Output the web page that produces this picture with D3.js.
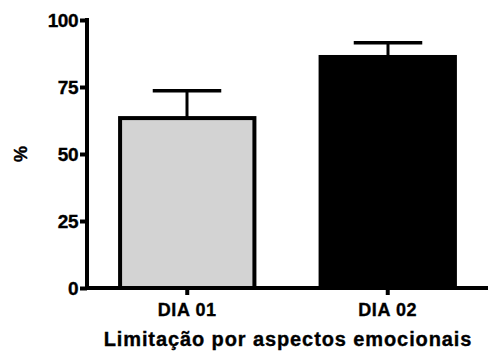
<!DOCTYPE html>
<html>
<head>
<meta charset="utf-8">
<script src="https://cdn.jsdelivr.net/npm/d3@7"></script>
<style>
  body { margin: 0; background: #fff; }
  svg { display: block; }
  svg text { font-family: "Liberation Sans", Arial, sans-serif; font-weight: bold; fill: #000; stroke: #000; stroke-width: 0.35px; }
  .axis path, .axis line { stroke: #000; stroke-width: 4px; }
</style>
</head>
<body>
<svg id="chart" width="488" height="351"></svg>
<script>
// data
const categories = ['DIA 01', 'DIA 02'];
const means = [63.4, 86.2];
const errors = [10.2, 5.3];
const fills = ['#d3d3d3', '#000000'];
const yTicks = [0, 25, 50, 75, 100];

const svg = d3.select('#chart');
const margin = { top: 20, right: 0, bottom: 63, left: 87 };
const width = 488 - margin.left - margin.right;
const height = 351 - margin.top - margin.bottom;

const g = svg.append('g').attr('transform', `translate(${margin.left},${margin.top})`);

const x = d3.scaleBand().domain(categories).range([0, width]).paddingInner(0.33).paddingOuter(0.165);
const y = d3.scaleLinear().domain([0, 100]).range([height, 0]);

// error bars (upper only)
categories.forEach((c, i) => {
  const cx = Math.round(x(c) + x.bandwidth() / 2);
  const capW = x.bandwidth() * 0.51;
  g.append('line')
    .attr('x1', cx).attr('x2', cx)
    .attr('y1', y(means[i])).attr('y2', y(means[i] + errors[i]))
    .attr('stroke', '#000').attr('stroke-width', 3);
  g.append('line')
    .attr('x1', cx - capW / 2).attr('x2', cx + capW / 2)
    .attr('y1', y(means[i] + errors[i])).attr('y2', y(means[i] + errors[i]))
    .attr('stroke', '#000').attr('stroke-width', 3.5);
});

// bars
g.selectAll('rect.bar')
  .data(categories)
  .join('rect')
  .attr('class', 'bar')
  .attr('x', d => x(d))
  .attr('width', x.bandwidth())
  .attr('y', (d, i) => y(means[i]))
  .attr('height', (d, i) => height - y(means[i]))
  .attr('fill', (d, i) => fills[i])
  .attr('stroke', '#000')
  .attr('stroke-width', 4);

// y axis
const yAxis = g.append('g')
  .attr('class', 'axis')
  .call(d3.axisLeft(y).tickValues(yTicks).tickSize(7).tickPadding(2).tickSizeOuter(0));
yAxis.select('.domain').attr('d', `M0,${height + 2}V${-2}`);
yAxis.selectAll('.tick text')
  .style('font-size', '19px')
  .style('letter-spacing', '-0.5px');

// x axis
const xAxis = g.append('g')
  .attr('class', 'axis')
  .attr('transform', `translate(0,${height})`)
  .call(d3.axisBottom(x).tickSize(7).tickPadding(6).tickSizeOuter(0));
xAxis.select('.domain').attr('d', `M-2,0H${width}`);
xAxis.selectAll('.tick text')
  .style('font-size', '18px')
  .style('letter-spacing', '0.6px')
  .attr('dy', null)
  .attr('y', 28);

// axis titles
svg.append('text')
  .attr('x', 288)
  .attr('y', 346)
  .attr('text-anchor', 'middle')
  .style('font-size', '20px')
  .style('letter-spacing', '0.9px')
  .text('Limitação por aspectos emocionais');

svg.append('text')
  .attr('transform', `translate(27,${margin.top + y(50)}) rotate(-90)`)
  .attr('text-anchor', 'middle')
  .style('font-size', '18px')
  .text('%');
</script>
</body>
</html>
